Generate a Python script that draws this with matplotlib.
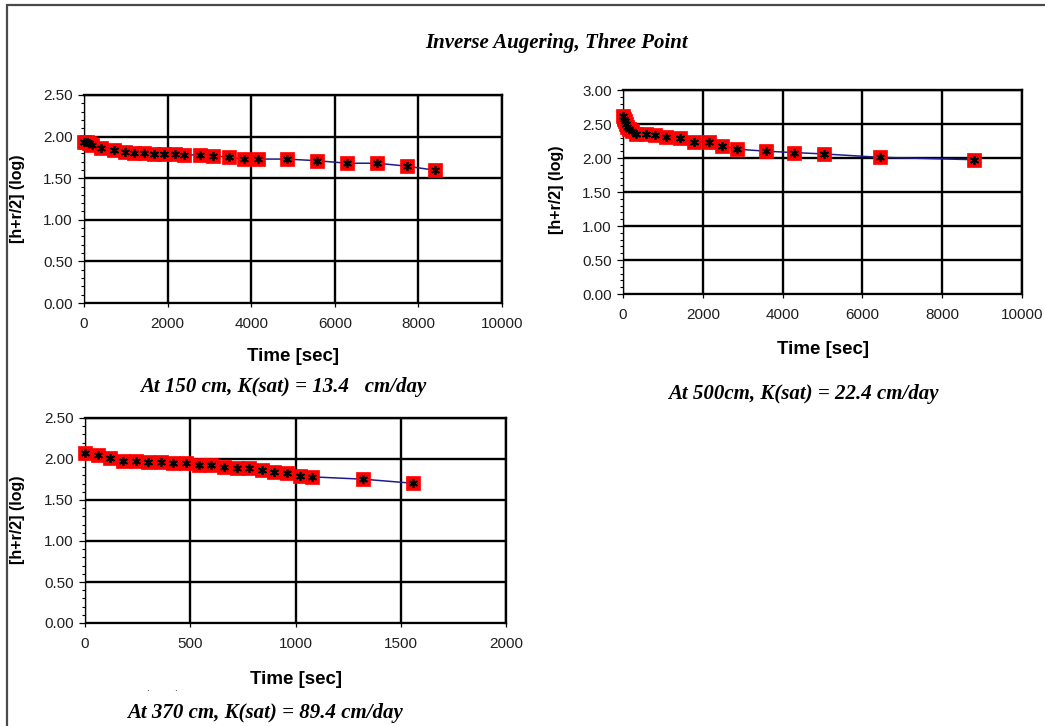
import matplotlib
matplotlib.use("Agg")
import matplotlib.pyplot as plt
from matplotlib.ticker import MultipleLocator, FormatStrFormatter
from matplotlib.patches import Rectangle

# ---------------- data ----------------
t_150 = [0, 60, 120, 200, 413, 714, 969, 1195, 1432, 1683, 1917, 2175, 2390,
         2764, 3088, 3477, 3818, 4172, 4845, 5582, 6295, 7008, 7720, 8409]
h_150 = [1.93, 1.93, 1.92, 1.90, 1.86, 1.84, 1.815, 1.80, 1.80, 1.795, 1.795,
         1.787, 1.78, 1.78, 1.77, 1.75, 1.73, 1.73, 1.73, 1.71, 1.68, 1.68,
         1.645, 1.595]

t_500 = [0, 20, 45, 75, 110, 160, 230, 328, 570, 805, 1081, 1432, 1784, 2143,
         2477, 2853, 3591, 4276, 5029, 6434, 8793]
h_500 = [2.62, 2.58, 2.54, 2.50, 2.46, 2.43, 2.40, 2.36, 2.36, 2.34, 2.315,
         2.29, 2.24, 2.23, 2.18, 2.13, 2.10, 2.08, 2.06, 2.01, 1.975]

t_370 = [0, 60, 120, 180, 240, 300, 360, 420, 480, 540, 600, 660, 720, 780,
         840, 900, 960, 1020, 1080, 1320, 1560]
h_370 = [2.074, 2.053, 2.012, 1.98, 1.98, 1.967, 1.967, 1.946, 1.946, 1.926,
         1.926, 1.905, 1.889, 1.889, 1.868, 1.847, 1.828, 1.794, 1.782, 1.754,
         1.704]

title = "Inverse Augering, Three Point"
ylabel = "[h+r/2] (log)"
xlabel = "Time [sec]"
sub_150 = "At 150 cm, K(sat) = 13.4   cm/day"
sub_500 = "At 500cm, K(sat) = 22.4 cm/day"
sub_370 = "At 370 cm, K(sat) = 89.4 cm/day"

# ---------------- figure ----------------
W, H = 1045, 726
fig = plt.figure(figsize=(W / 100, H / 100), dpi=100)
fig.patch.set_facecolor("white")

SANS = "Liberation Sans"
SERIF = "Liberation Serif"


def fx(px):
    return px / W


def fy(py):
    return 1 - py / H


def make_ax(l, t, r, b, t_data, h_data, xmax, xstep, ymax):
    ax = fig.add_axes([fx(l), fy(b), fx(r - l), (b - t) / H])
    ax.set_xlim(0, xmax)
    ax.set_ylim(0, ymax)
    ax.xaxis.set_major_locator(MultipleLocator(xstep))
    ax.yaxis.set_major_locator(MultipleLocator(0.5))
    ax.yaxis.set_minor_locator(MultipleLocator(0.1))
    ax.yaxis.set_major_formatter(FormatStrFormatter("%.2f"))
    ax.grid(True, which="major", color="black", linewidth=1.7)
    ax.set_axisbelow(True)
    ax.figure.canvas.draw()
    ax.get_xgridlines()[0].set_visible(False)
    ax.get_ygridlines()[0].set_visible(False)
    for s in ("top", "right"):
        ax.spines[s].set_linewidth(1.7)
    for s in ("left", "bottom"):
        ax.spines[s].set_linewidth(0.9)
    ax.tick_params(axis="y", which="major", direction="out", length=4,
                   width=0.9, pad=4, labelsize=11)
    ax.tick_params(axis="y", which="minor", direction="out", length=2.5,
                   width=0.8)
    ax.tick_params(axis="x", which="major", direction="out", length=3,
                   width=0.9, pad=7, labelsize=11)
    for lab in ax.get_xticklabels() + ax.get_yticklabels():
        lab.set_family(SANS)
        lab.set_color("#202020")
    ax.plot(t_data, h_data, color="#1c1c8e", linewidth=1.1, zorder=3,
            clip_on=False)
    ax.plot(t_data, h_data, linestyle="none", marker="s", markersize=9.5,
            markerfacecolor="#ff0000", markeredgecolor="#ff0000",
            markeredgewidth=0.5, zorder=4, clip_on=False)
    ax.plot(t_data, h_data, linestyle="none", marker=(6, 2, 0),
            markersize=6.5, markeredgecolor="black", markeredgewidth=1.2,
            zorder=5, clip_on=False)
    return ax


ax1 = make_ax(84, 95, 502, 303, t_150, h_150, 10000, 2000, 2.5)
ax2 = make_ax(623, 90, 1022, 294, t_500, h_500, 10000, 2000, 3.0)
ax3 = make_ax(85, 418, 506, 623, t_370, h_370, 2000, 500, 2.5)

# y labels
for xpx, ypx in ((18, 199), (557, 190), (18, 520)):
    fig.text(fx(xpx), fy(ypx), ylabel, rotation=90, ha="center", va="center",
             fontsize=11.5, fontweight="bold", family=SANS)

# x labels
for xpx, ypx in ((293, 356), (823, 350), (296, 679)):
    fig.text(fx(xpx), fy(ypx), xlabel, ha="center", va="center",
             fontsize=13.5, fontweight="bold", family=SANS)

# subtitles
fig.text(fx(283), fy(387), sub_150, ha="center", va="center", fontsize=15,
         fontweight="bold", fontstyle="italic", family=SERIF)
fig.text(fx(803), fy(394), sub_500, ha="center", va="center", fontsize=15,
         fontweight="bold", fontstyle="italic", family=SERIF)
fig.text(fx(265), fy(713), sub_370, ha="center", va="center", fontsize=15,
         fontweight="bold", fontstyle="italic", family=SERIF)

# small stray dots
fig.text(fx(147), fy(688), ".", ha="center", va="center", fontsize=7,
         family=SANS)
fig.text(fx(175), fy(688), ".", ha="center", va="center", fontsize=7,
         family=SANS)

# title
fig.text(fx(557), fy(43), title, ha="center", va="center", fontsize=15,
         fontweight="bold", fontstyle="italic", family=SERIF)

# outer border
fig.add_artist(Rectangle((fx(7), -0.1), 1.2, fy(5) + 0.1,
                         transform=fig.transFigure, fill=False,
                         edgecolor="#4a4a4a", linewidth=1.6))

fig.savefig("out.png", dpi=100, facecolor="white")
